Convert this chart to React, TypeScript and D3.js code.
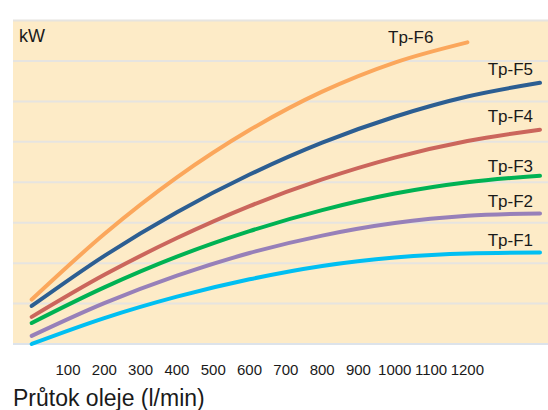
import React from "react";
import * as d3 from "d3";

const xValues = [0, 200, 400, 600, 800, 1000, 1200, 1400];
const seriesNames = ["Tp-F1", "Tp-F2", "Tp-F3", "Tp-F4", "Tp-F5", "Tp-F6"];
const f1 = [0.0, 0.64, 1.17, 1.6, 1.93, 2.14, 2.24, 2.26];
const f2 = [0.2, 1.01, 1.69, 2.25, 2.68, 2.99, 3.17, 3.23];
const f3 = [0.52, 1.4, 2.16, 2.79, 3.31, 3.72, 4.0, 4.16];
const f4 = [0.67, 1.71, 2.62, 3.41, 4.07, 4.61, 5.02, 5.3];
const f5 = [0.94, 2.18, 3.26, 4.19, 4.98, 5.62, 6.12, 6.46];
const f6 = [1.1, 2.72, 4.12, 5.29, 6.24, 6.96, 7.46];
const seriesValues = [f1, f2, f3, f4, f5, f6];
const seriesColors = ["#00BFF2", "#9780B9", "#00B253", "#CB665C", "#2C5E92", "#FBA75C"];
const tickValues = [100, 200, 300, 400, 500, 600, 700, 800, 900, 1000, 1100, 1200];
const gridValues = [0, 1, 2, 3, 4, 5, 6, 7, 8];
const yUnit = "kW";
const xTitle = "Průtok oleje (l/min)";

const W = 548;
const H = 410;

export default function App() {
  const x = d3.scaleLinear().domain([0, 1400]).range([31.7, 540]);
  const y = d3.scaleLinear().domain([0, 8]).range([344, 20.5]);
  const line = d3
    .line<[number, number]>()
    .x((d) => x(d[0]))
    .y((d) => y(d[1]))
    .curve(d3.curveMonotoneX);

  const labelPos = [
    { x: 533, y: 246, anchor: "end" },
    { x: 533, y: 207, anchor: "end" },
    { x: 533, y: 172, anchor: "end" },
    { x: 533, y: 122, anchor: "end" },
    { x: 533, y: 75, anchor: "end" },
    { x: 388, y: 43, anchor: "start" },
  ];

  return (
    <svg
      width={W}
      height={H}
      style={{ position: "absolute", left: 0, top: 0, fontFamily: "Liberation Sans, Arial, sans-serif" }}
    >
      <rect x={0} y={0} width={W} height={H} fill="#ffffff" />
      <rect x={13} y={y(8)} width={W - 13} height={y(0) - y(8)} fill="#FDEBC7" />
      {gridValues.map((g) => (
        <line
          key={g}
          x1={13}
          x2={W}
          y1={y(g)}
          y2={y(g)}
          stroke={g === 0 ? "#DDE3EA" : "#E6E4E0"}
          strokeWidth={2}
        />
      ))}
      <text x={19} y={42} fontSize={18} fill="#1a1a1a">
        {yUnit}
      </text>
      {seriesValues.map((vals, i) => {
        const pts = vals.map((v, j) => [xValues[j], v] as [number, number]);
        return (
          <path
            key={seriesNames[i]}
            d={line(pts) || ""}
            fill="none"
            stroke={seriesColors[i]}
            strokeWidth={4}
            strokeLinecap="round"
          />
        );
      })}
      {seriesNames.map((n, i) => (
        <text
          key={n}
          x={labelPos[i].x}
          y={labelPos[i].y}
          fontSize={17}
          textAnchor={labelPos[i].anchor as any}
          fill="#1a1a1a"
        >
          {n}
        </text>
      ))}
      {tickValues.map((t) => (
        <text key={t} x={x(t)} y={375} fontSize={15} textAnchor="middle" fill="#1a1a1a">
          {t}
        </text>
      ))}
      <text x={13} y={406} fontSize={23} fill="#1a1a1a">
        {xTitle}
      </text>
    </svg>
  );
}
